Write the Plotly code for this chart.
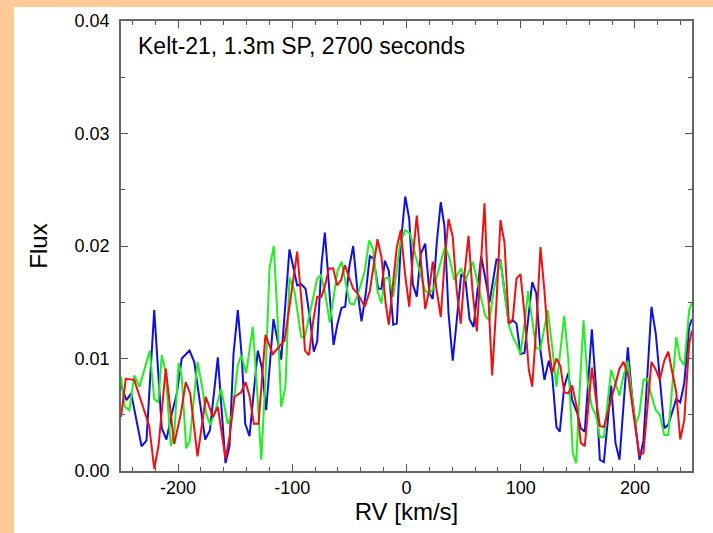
import plotly.graph_objects as go

# blue spectrum
rv_blue = [-250, -245.2, -241.1, -232.0, -227.7, -220.9, -214.3, -210.2, -205.5, -201.1, -196.8, -190.0, -185.9,
           -176.3, -172.2, -165.2, -158.5, -155.0, -151.5, -147.7, -144.2, -141.2, -137.5, -130.2, -126.7, -122.9,
           -116.5, -113.2, -109.7, -102.5, -95.7, -92.2, -88.4, -84.7, -81.2, -78.2, -74.4, -71.5, -68.0, -63.9,
           -60.4, -56.9, -53.7, -50.2, -46.7, -42.9, -39.4, -35.9, -32.1, -28.9, -24.8, -21.9, -19.0, -15.5, -11.6,
           -8.5, -5.0, -1.1, 2.4, 5.5, 9.0, 12.5, 16.4, 20.1, 23.0, 26.5, 30.0, 33.3, 36.8, 40.5, 44.0, 47.9, 51.4,
           55.2, 58.7, 65.4, 68.9, 72.7, 78.8, 82.3, 85.8, 89.6, 93.1, 96.3, 99.8, 103.3, 110.1, 113.6, 117.3, 120.8,
           124.6, 127.6, 131.3, 134.2, 138.1, 141.6, 145.1, 149.7, 152.6, 156.1, 162.3, 165.8, 169.3, 172.8, 179.2,
           183.0, 186.5, 193.8, 197.3, 204.0, 207.5, 214.5, 218.3, 225.7, 229.2, 236.2, 239.7, 243.2, 247.5, 250]
flux_blue = [0.0076, 0.0063, 0.0069, 0.0022, 0.0027, 0.0143, 0.0038, 0.0028, 0.0051, 0.0069, 0.0100, 0.0107, 0.0097,
             0.0028, 0.0036, 0.0101, 0.0007, 0.0022, 0.0104, 0.0143, 0.0101, 0.0042, 0.0031, 0.0107, 0.0092, 0.0054,
             0.0135, 0.0119, 0.0099, 0.0197, 0.0165, 0.0166, 0.0162, 0.0137, 0.0106, 0.0115, 0.0184, 0.0212, 0.0169,
             0.0112, 0.0131, 0.0145, 0.0146, 0.0181, 0.0200, 0.0160, 0.0133, 0.0156, 0.0191, 0.0189, 0.0162, 0.0162,
             0.0187, 0.0178, 0.0130, 0.0131, 0.0202, 0.0244, 0.0224, 0.0166, 0.0155, 0.0193, 0.0202, 0.0158, 0.0153,
             0.0203, 0.0239, 0.0217, 0.0140, 0.0098, 0.0134, 0.0175, 0.0172, 0.0135, 0.0128, 0.0191, 0.0172, 0.0150,
             0.0188, 0.0187, 0.0160, 0.0131, 0.0134, 0.0131, 0.0104, 0.0105, 0.0168, 0.0158, 0.0107, 0.0081, 0.0098,
             0.0085, 0.0039, 0.0035, 0.0075, 0.0087, 0.0063, 0.0051, 0.0038, 0.0035, 0.0126, 0.0076, 0.0010, 0.0008,
             0.0076, 0.0025, 0.0010, 0.0110, 0.0069, 0.0010, 0.0027, 0.0146, 0.0122, 0.0038, 0.0041, 0.0064, 0.0061,
             0.0078, 0.0128, 0.0135]

# green spectrum
rv_green = [-250, -246.8, -242.6, -238.4, -233.8, -228.8, -224.8, -220.9, -217.4, -214.3, -210.8, -206.4, -203.2,
            -199.6, -196.8, -192.9, -189.8, -183.0, -179.5, -175.4, -171.9, -168.1, -162.3, -156.5, -152.6, -147.7,
            -144.7, -140.4, -134.6, -130.7, -127.2, -123.5, -120.0, -116.2, -112.7, -109.7, -106.0, -102.5, -98.1,
            -92.2, -89.1, -84.7, -78.2, -75.1, -71.5, -67.2, -60.4, -56.9, -53.2, -49.6, -46.1, -42.3, -36.5, -32.7,
            -29.2, -25.4, -21.9, -19.0, -15.5, -11.6, -5.5, -1.1, 3.2, 9.0, 16.4, 20.1, 23.6, 29.5, 33.9, 37.9, 41.8,
            47.9, 51.4, 58.1, 63.0, 68.9, 72.7, 76.2, 82.3, 85.8, 89.6, 93.1, 96.3, 99.8, 103.3, 106.5, 110.1, 113.6,
            117.3, 123.7, 127.6, 131.3, 138.1, 141.6, 145.6, 148.6, 151.5, 155.0, 158.5, 162.3, 165.8, 169.3, 172.8,
            179.2, 183.0, 186.5, 190.0, 193.8, 197.0, 200.5, 204.0, 207.5, 211.0, 214.5, 218.3, 221.8, 225.7, 229.2,
            232.7, 236.2, 239.7, 243.2, 247.5, 250]
flux_green = [0.0084, 0.0057, 0.0054, 0.0085, 0.0075, 0.0094, 0.0107, 0.0064, 0.0061, 0.0103, 0.0087, 0.0022, 0.0035,
              0.0096, 0.0084, 0.0020, 0.0027, 0.0097, 0.0078, 0.0051, 0.0041, 0.0051, 0.0073, 0.0042, 0.0050, 0.0094,
              0.0103, 0.0087, 0.0128, 0.0070, 0.0010, 0.0081, 0.0180, 0.0200, 0.0131, 0.0057, 0.0075, 0.0172, 0.0160,
              0.0119, 0.0119, 0.0140, 0.0171, 0.0174, 0.0160, 0.0132, 0.0178, 0.0186, 0.0168, 0.0149, 0.0148, 0.0158,
              0.0178, 0.0205, 0.0197, 0.0160, 0.0149, 0.0171, 0.0172, 0.0155, 0.0203, 0.0214, 0.0211, 0.0187, 0.0160,
              0.0158, 0.0162, 0.0184, 0.0200, 0.0188, 0.0170, 0.0180, 0.0169, 0.0186, 0.0163, 0.0138, 0.0134, 0.0160,
              0.0187, 0.0160, 0.0130, 0.0119, 0.0113, 0.0104, 0.0130, 0.0160, 0.0135, 0.0109, 0.0109, 0.0143, 0.0110,
              0.0075, 0.0138, 0.0100, 0.0016, 0.0007, 0.0070, 0.0134, 0.0080, 0.0057, 0.0050, 0.0030, 0.0030, 0.0090,
              0.0078, 0.0067, 0.0085, 0.0098, 0.0070, 0.0041, 0.0051, 0.0081, 0.0082, 0.0067, 0.0054, 0.0050, 0.0032,
              0.0032, 0.0075, 0.0119, 0.0099, 0.0094, 0.0143, 0.0150]

# red spectrum
rv_red = [-250, -245.8, -238.4, -229.7, -225.3, -220.9, -217.2, -210.8, -207.2, -203.4, -197.6, -193.3, -189.4,
          -183.0, -175.7, -172.5, -169.6, -165.2, -158.5, -155.0, -150.6, -144.7, -141.0, -137.5, -133.7, -129.6,
          -123.5, -117.1, -112.7, -106.8, -102.5, -95.7, -91.3, -88.9, -85.4, -81.6, -78.2, -74.4, -71.3, -68.0,
          -64.2, -60.7, -57.2, -54.0, -50.2, -46.7, -42.9, -36.5, -32.1, -29.2, -25.4, -21.9, -18.4, -15.5, -11.6,
          -8.5, -5.0, -1.3, 2.4, 5.5, 9.0, 12.5, 16.4, 19.7, 23.0, 26.5, 30.0, 33.3, 36.8, 40.5, 44.0, 47.5, 50.8,
          54.3, 57.8, 61.6, 64.8, 68.3, 71.4, 75.0, 78.8, 82.3, 85.8, 89.6, 93.1, 96.3, 99.8, 103.3, 107.1, 110.1,
          113.8, 117.3, 120.8, 124.1, 127.6, 131.3, 134.8, 138.1, 141.6, 145.1, 149.5, 152.6, 156.1, 162.3, 165.8,
          169.3, 172.8, 179.2, 186.5, 190.0, 193.8, 200.5, 204.0, 207.5, 214.5, 218.3, 221.8, 225.7, 229.2, 236.2,
          239.7, 243.2, 247.5, 250]
flux_red = [0.0048, 0.0082, 0.0081, 0.0054, 0.0040, 0.0002, 0.0022, 0.0091, 0.0060, 0.0024, 0.0051, 0.0079, 0.0069,
            0.0013, 0.0066, 0.0057, 0.0048, 0.0057, 0.0011, 0.0030, 0.0066, 0.0070, 0.0079, 0.0067, 0.0042, 0.0042,
            0.0121, 0.0104, 0.0109, 0.0116, 0.0146, 0.0195, 0.0143, 0.0107, 0.0103, 0.0134, 0.0155, 0.0155, 0.0165,
            0.0180, 0.0180, 0.0165, 0.0170, 0.0183, 0.0172, 0.0162, 0.0158, 0.0146, 0.0160, 0.0181, 0.0206, 0.0190,
            0.0150, 0.0130, 0.0169, 0.0199, 0.0214, 0.0175, 0.0146, 0.0190, 0.0227, 0.0190, 0.0144, 0.0160, 0.0186,
            0.0160, 0.0137, 0.0185, 0.0224, 0.0208, 0.0160, 0.0131, 0.0175, 0.0209, 0.0160, 0.0124, 0.0180, 0.0238,
            0.0160, 0.0085, 0.0150, 0.0223, 0.0203, 0.0131, 0.0135, 0.0171, 0.0175, 0.0140, 0.0090, 0.0075, 0.0130,
            0.0199, 0.0160, 0.0115, 0.0087, 0.0100, 0.0093, 0.0070, 0.0069, 0.0076, 0.0055, 0.0025, 0.0022, 0.0092,
            0.0065, 0.0040, 0.0039, 0.0063, 0.0091, 0.0097, 0.0087, 0.0038, 0.0014, 0.0016, 0.0097, 0.0090, 0.0081,
            0.0098, 0.0106, 0.0070, 0.0028, 0.0045, 0.0113, 0.0125]

# axis labels as printed (plain hyphen minus)
x_tickvals = [-200, -100, 0, 100, 200]
x_ticktext = ["-200", "-100", "0", "100", "200"]

FONT = "Liberation Sans, Arial"

fig = go.Figure()
fig.add_trace(go.Scatter(x=rv_blue, y=flux_blue, mode="lines", line=dict(color="#1010dd", width=2)))
fig.add_trace(go.Scatter(x=rv_green, y=flux_green, mode="lines", line=dict(color="#22ee22", width=2)))
fig.add_trace(go.Scatter(x=rv_red, y=flux_red, mode="lines", line=dict(color="#ee1111", width=2)))

axis_common = dict(
    showline=True, linecolor="#666666", linewidth=1.5, mirror="ticks",
    ticks="inside", ticklen=7, tickwidth=1, tickcolor="#555555",
    showgrid=False, zeroline=False,
    tickfont=dict(family=FONT, size=18, color="black"),
)

fig.update_xaxes(
    range=[-250, 250], tickmode="array", tickvals=x_tickvals, ticktext=x_ticktext,
    minor=dict(dtick=20, tick0=0, ticks="inside", ticklen=4, tickcolor="#555555"),
    title=dict(text="RV [km/s]", font=dict(family=FONT, size=24, color="black"), standoff=0),
    **axis_common,
)
fig.update_yaxes(
    range=[0, 0.04], dtick=0.01, tick0=0, tickformat=".2f", ticklabelstandoff=6,
    minor=dict(dtick=0.005, tick0=0, ticks="inside", ticklen=4, tickcolor="#555555"),
    title=dict(text="Flux", font=dict(family=FONT, size=24, color="black"), standoff=20),
    **axis_common,
)

fig.add_annotation(
    text="Kelt-21, 1.3m SP, 2700 seconds", xref="paper", yref="paper",
    x=0.026, y=0.944, xanchor="left", yanchor="middle", showarrow=False,
    font=dict(family=FONT, size=23, color="black"),
)

# white page on the peach frame
fig.add_shape(type="rect", xref="paper", yref="paper", x0=-0.1874, x1=1.2, y0=-0.3, y1=1.0311,
              fillcolor="white", line_width=0, layer="below")

fig.update_layout(
    width=713, height=533,
    margin=dict(l=121, r=21, t=21, b=62),
    paper_bgcolor="#fecb98", plot_bgcolor="white",
    showlegend=False,
)

fig.write_html("out.html", config={"displayModeBar": False},
               post_script="document.body.style.margin='0px';")
